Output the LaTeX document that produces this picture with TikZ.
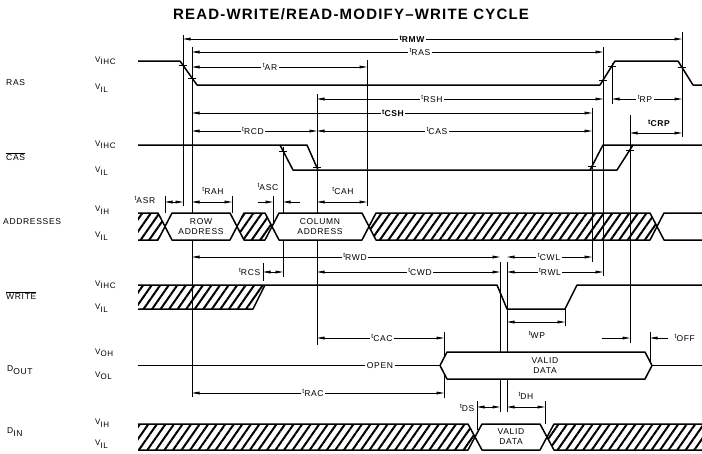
\documentclass[tikz,border=0pt]{standalone}
\usepackage{fontspec}
\setmainfont{Liberation Sans}[LetterSpace=8]
\usetikzlibrary{arrows.meta,patterns.meta}

\newcommand{\tm}[1]{{\fontsize{6.5}{7}\selectfont t}\raisebox{-0.5ex}{#1}}
\newcommand{\tmb}[1]{{\fontsize{7}{7}\selectfont\bfseries t}\raisebox{-0.5ex}{\bfseries #1}}
\newcommand{\lv}[2]{#1\raisebox{-0.6ex}{#2}}
\newcommand{\seg}[5]{\draw[wave,#5] (#1,{(#3+#4)/2}) -- ({#1+7},#3) -- ({#2-7},#3) -- (#2,{(#3+#4)/2}) -- ({#2-7},#4) -- ({#1+7},#4) -- cycle;}

\begin{document}
\begin{tikzpicture}[x=1pt,y=-1pt,
  wave/.style={line width=1.5pt,line join=round},
  refl/.style={line width=0.6pt},
  dim/.style={line width=0.7pt,{Triangle[length=7.5pt,width=2.8pt]}-{Triangle[length=7.5pt,width=2.8pt]}},
  dimr/.style={line width=0.7pt,-{Triangle[length=7.5pt,width=2.8pt]}},
  hatch/.style={pattern={Lines[angle=55,distance=7pt,line width=2pt]}},
  lbl/.style={fill=white,inner sep=1.5pt,font=\fontsize{8.5}{10}\selectfont},
  sig/.style={anchor=west,inner sep=0pt,font=\fontsize{8.5}{10}\selectfont},
  lvl/.style={anchor=west,inner sep=0pt,font=\fontsize{8}{9}\selectfont},
  box/.style={align=center,inner sep=0pt,font=\fontsize{8.5}{10}\selectfont},
  tick/.style={line width=0.8pt}]
\useasboundingbox (0,0) rectangle (702,453);

\node (title) at (351,14) {\fontsize{15}{18}\selectfont\bfseries READ-WRITE/READ-MODIFY–WRITE CYCLE};

\node[sig] (ras) at (6,83) {RAS};
\node[sig] (cas) at (6,157) {$\overline{\mbox{CAS}}$};
\node[sig] (addr) at (3,222) {ADDRESSES};
\node[sig] (wr) at (6,296) {$\overline{\mbox{WRITE}}$};
\node[sig] (dout) at (7,370) {\lv{D}{OUT}};
\node[sig] (din) at (7,432) {\lv{D}{IN}};

\node[lvl] (rasH) at (95,61) {\lv{V}{IHC}};
\node[lvl] (rasL) at (95,88) {\lv{V}{IL}};
\node[lvl] (casH) at (95,145) {\lv{V}{IHC}};
\node[lvl] (casL) at (95,171) {\lv{V}{IL}};
\node[lvl] (addrH) at (95,210) {\lv{V}{IH}};
\node[lvl] (addrL) at (95,236) {\lv{V}{IL}};
\node[lvl] (wrH) at (95,285) {\lv{V}{IHC}};
\node[lvl] (wrL) at (95,308) {\lv{V}{IL}};
\node[lvl] (doutH) at (95,353) {\lv{V}{OH}};
\node[lvl] (doutL) at (95,376) {\lv{V}{OL}};
\node[lvl] (dinH) at (95,423) {\lv{V}{IH}};
\node[lvl] (dinL) at (95,444) {\lv{V}{IL}};

\draw[refl] (183,35) -- (183,206);
\draw[refl] (192,47) -- (192,397);
\draw[refl] (367,60) -- (367,206);
\draw[refl] (603,47) -- (603,276);
\draw[refl] (612,63) -- (612,104);
\draw[refl] (682,32) -- (682,137);
\draw[refl] (317,94) -- (317,345);
\draw[refl] (592,108) -- (592,262);
\draw[refl] (630,115) -- (630,343);
\draw[refl] (165,196) -- (165,213);
\draw[refl] (232,196) -- (232,213);
\draw[refl] (273,196) -- (273,226);
\draw[refl] (283,147) -- (283,277);
\draw[refl] (263,263) -- (263,281);
\draw[refl] (500,262) -- (500,412);
\draw[refl] (507,262) -- (507,412);
\draw[refl] (565,309) -- (565,326);
\draw[refl] (444,332) -- (444,398);
\draw[refl] (650,332) -- (650,362);
\draw[refl] (477,401) -- (477,430);
\draw[refl] (545,401) -- (545,424);

\draw[dim] (183,39) -- (682,39);
\node[lbl] (lRMW) at (412,39) {\tmb{RMW}};
\draw[dim] (192,52) -- (603,52);
\node[lbl] (lRAS) at (420,52) {\tm{RAS}};
\draw[dim] (192,67) -- (367,67);
\node[lbl] (lAR) at (270,67) {\tm{AR}};
\draw[dim] (317,99) -- (603,99);
\node[lbl] (lRSH) at (432,99) {\tm{RSH}};
\draw[dim] (612,99) -- (682,99);
\node[lbl] (lRP) at (645,99) {\tm{RP}};
\draw[dim] (192,113) -- (592,113);
\node[lbl] (lCSH) at (393,113) {\tmb{CSH}};
\draw[dim] (192,131) -- (317,131);
\node[lbl] (lRCD) at (253,131) {\tm{RCD}};
\draw[dim] (317,131) -- (592,131);
\node[lbl] (lCAS) at (437,131) {\tm{CAS}};
\draw[dim] (630,133) -- (682,133);
\node[lbl] (lCRP) at (659,123) {\tmb{CRP}};

\draw[dim] (165,202) -- (183,202);
\node[lbl] (lASR) at (145,200) {\tm{ASR}};
\draw[dim] (192,202) -- (232,202);
\node[lbl] (lRAH) at (213,191) {\tm{RAH}};
\draw[dimr] (258,202) -- (273,202);
\draw[dimr] (300,202) -- (283,202);
\node[lbl] (lASC) at (268,187) {\tm{ASC}};
\draw[dim] (317,202) -- (367,202);
\node[lbl] (lCAH) at (343,191) {\tm{CAH}};

\draw[dim] (192,257) -- (500,257);
\node[lbl] (lRWD) at (355,257) {\tm{RWD}};
\draw[dim] (507,257) -- (592,257);
\node[lbl] (lCWL) at (549,257) {\tm{CWL}};
\draw[dim] (263,272) -- (283,272);
\node[lbl,anchor=east] (lRCS) at (262,272) {\tm{RCS}};
\draw[dim] (317,272) -- (500,272);
\node[lbl] (lCWD) at (420,272) {\tm{CWD}};
\draw[dim] (507,272) -- (603,272);
\node[lbl] (lRWL) at (550,272) {\tm{RWL}};

\draw[dim] (507,322) -- (565,322);
\node[lbl] (lWP) at (537,335) {\tm{WP}};
\draw[dim] (317,338) -- (444,338);
\node[lbl] (lCAC) at (382,338) {\tm{CAC}};
\draw[dimr] (602,338) -- (630,338);
\draw[dimr] (668,338) -- (650,338);
\node[lbl,anchor=west] (lOFF) at (673,338) {\tm{OFF}};
\draw[dim] (192,393) -- (444,393);
\node[lbl] (lRAC) at (313,393) {\tm{RAC}};
\draw[dim] (477,407) -- (500,407);
\node[lbl,anchor=east] (lDS) at (476,408) {\tm{DS}};
\draw[dim] (507,407) -- (545,407);
\node[lbl] (lDH) at (526,396) {\tm{DH}};

\draw[wave] (138,61) -- (180,61) -- (197,85) -- (600,85) -- (615,61) -- (678,61) -- (693,85) -- (702,85);

\draw[wave] (138,145) -- (307,145) -- (318,170);
\draw[wave] (280,145) -- (293,170) -- (617,170) -- (633,145);
\draw[wave] (590,170) -- (603,145) -- (702,145);

\fill[hatch] (138,213) -- (158,213) -- (165,226.5) -- (158,240) -- (138,240) -- cycle;
\draw[wave] (138,213) -- (158,213) -- (165,226.5) -- (158,240) -- (138,240);
\seg{165}{237}{213}{240}{fill=white}
\seg{237}{272}{213}{240}{hatch}
\seg{272}{369}{213}{240}{fill=white}
\seg{369}{657}{213}{240}{hatch}
\draw[wave] (702,213) -- (664,213) -- (657,226.5) -- (664,240) -- (702,240);
\node[box] (row) at (201,226.5) {ROW\\ADDRESS};
\node[box] (col) at (320,226.5) {COLUMN\\ADDRESS};

\fill[hatch] (138,285) -- (265,285) -- (253,309) -- (138,309) -- cycle;
\draw[wave] (138,309) -- (253,309) -- (265,285);
\draw[wave] (138,285) -- (497,285) -- (507,309) -- (565,309) -- (577,285) -- (702,285);

\draw[wave] (138,365.5) -- (440,365.5);
\node[lbl] (open) at (380,365.5) {OPEN};
\seg{440}{652}{352}{379}{fill=white}
\draw[wave] (652,365.5) -- (702,365.5);
\node[box] (vout) at (545,365.5) {VALID\\DATA};

\fill[hatch] (138,424) -- (468,424) -- (475,437) -- (468,450) -- (138,450) -- cycle;
\draw[wave] (138,424) -- (468,424) -- (475,437) -- (468,450) -- (138,450);
\seg{475}{547}{424}{450}{fill=white}
\fill[hatch] (702,424) -- (554,424) -- (547,437) -- (554,450) -- (702,450) -- cycle;
\draw[wave] (702,424) -- (554,424) -- (547,437) -- (554,450) -- (702,450);
\node[box] (vin) at (511,437) {VALID\\DATA};

\draw[tick] (179,65) -- (187,65);
\draw[tick] (188,78) -- (196,78);
\draw[tick] (599,80) -- (607,80);
\draw[tick] (608,66) -- (616,66);
\draw[tick] (678,67) -- (686,67);
\draw[tick] (279,151) -- (287,151);
\draw[tick] (313,167) -- (321,167);
\draw[tick] (588,166) -- (596,166);
\draw[tick] (626,150) -- (634,150);
\end{tikzpicture}
\end{document}
